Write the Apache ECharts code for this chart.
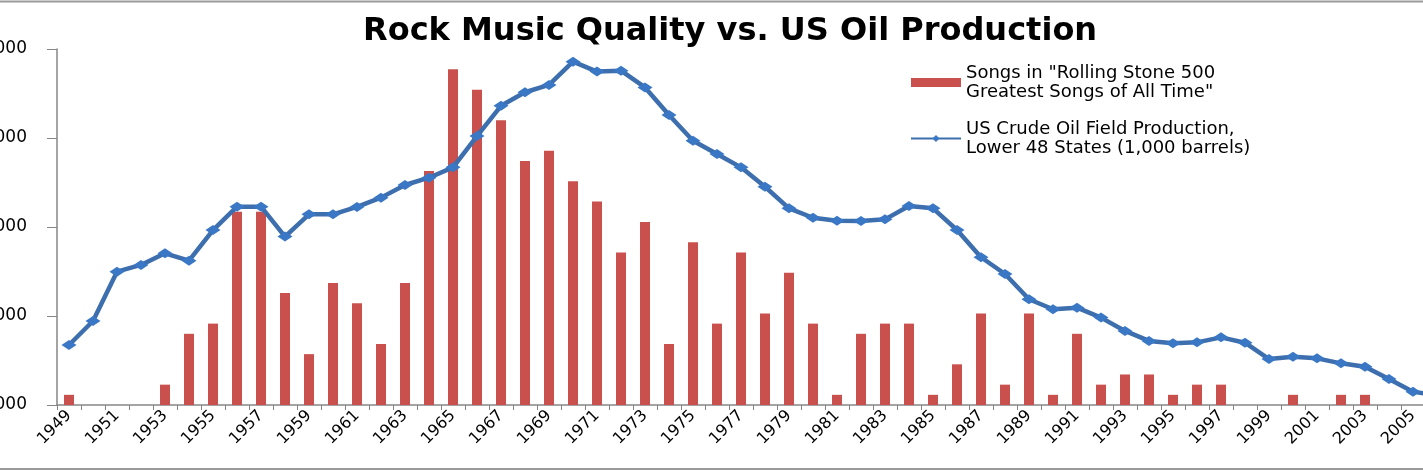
<!DOCTYPE html>
<html><head><meta charset="utf-8">
<script src="https://cdn.jsdelivr.net/npm/echarts@6/dist/echarts.min.js"></script>
<style>html,body{margin:0;padding:0;background:#fff}#c{width:1423px;height:474px}</style>
</head><body><div id="c"></div><script>
const years = ['1949','1950','1951','1952','1953','1954','1955','1956','1957','1958','1959','1960','1961',
'1962','1963','1964','1965','1966','1967','1968','1969','1970','1971','1972','1973',
'1974','1975','1976','1977','1978','1979','1980','1981','1982','1983','1984','1985',
'1986','1987','1988','1989','1990','1991','1992','1993','1994','1995','1996','1997',
'1998','1999','2000','2001','2002','2003','2004','2005','2006','2007'];
const songs = [1,0,0,0,2,7,8,19,19,11,5,12,10,
6,12,23,33,31,28,24,25,22,20,15,18,
6,16,8,15,9,13,8,1,7,8,8,1,
4,9,2,9,1,7,2,3,3,1,2,2,
0,0,1,0,1,1,0,0,0,0];
const oil = [1837000,1972000,2249000,2287000,2352000,2311000,2483000,2614000,2614000,2446000,2571000,2571000,2613000,
2665000,2736000,2777000,2835000,3011000,3181000,3257000,3298000,3429000,3373000,3378000,3284000,
3129000,2985000,2910000,2835000,2726000,2605000,2552000,2535000,2534000,2543000,2618000,2605000,
2483000,2330000,2236000,2094000,2038000,2047000,1991000,1916000,1860000,1847000,1852000,1880000,
1850000,1758000,1771000,1762000,1734000,1715000,1646000,1575000,1553000,1540000];
const songsName = 'Songs in "Rolling Stone 500\nGreatest Songs of All Time"';
const oilName = 'US Crude Oil Field Production,\nLower 48 States (1,000 barrels)';
const titleText = 'Rock Music Quality vs. US Oil Production';

const chart = echarts.init(document.getElementById('c'));
const font = 'DejaVu Sans';
chart.setOption({
  backgroundColor: '#fff',
  animation: false,
  title: {
    text: titleText, left: 358, top: 11,
    textStyle: {fontFamily: font, fontWeight: 'bold', fontSize: 32, color: '#000'}
  },
  legend: {
    orient: 'vertical', left: 905, top: 49, itemWidth: 50, itemHeight: 9, itemGap: -1,
    data: [{name: songsName, icon: 'rect'}, {name: oilName}],
    textStyle: {fontFamily: font, fontSize: 18, lineHeight: 19, color: '#000', padding: [19, 0, 0, 0]}
  },
  graphic: [
    {type: 'line', shape: {x1: 0, y1: 1.5, x2: 1423, y2: 1.5}, style: {stroke: '#9a9a9a', lineWidth: 2}},
    {type: 'line', shape: {x1: 0, y1: 469, x2: 1423, y2: 469}, style: {stroke: '#9a9a9a', lineWidth: 2}}
  ],
  grid: {left: 57, top: 49, width: 1416, height: 356, outerBoundsMode: 'none', containLabel: false},
  xAxis: {
    type: 'category', data: years, boundaryGap: true,
    axisLine: {lineStyle: {color: '#868686', width: 1.5}},
    axisTick: {show: true, interval: 0, length: 5, lineStyle: {color: '#868686'}},
    axisLabel: {interval: 1, rotate: 45, margin: 8, fontFamily: font, fontSize: 16, color: '#000'},
    splitLine: {show: false}
  },
  yAxis: [
    {type: 'value', min: 1500000, max: 3500000, interval: 500000, position: 'left',
     axisLine: {show: true, lineStyle: {color: '#868686', width: 1.5}},
     axisTick: {show: true, length: 10, lineStyle: {color: '#868686'}},
     axisLabel: {margin: 30, fontFamily: font, fontSize: 17, color: '#000',
       formatter: v => v.toLocaleString('en-US')},
     splitLine: {show: false}},
    {type: 'value', min: 0, max: 35, show: false, splitLine: {show: false}}
  ],
  series: [
    {name: songsName, type: 'bar', yAxisIndex: 1, data: songs, barWidth: 10,
     itemStyle: {color: '#c9504d'}},
    {name: oilName, type: 'line', yAxisIndex: 0, data: oil, symbol: 'diamond', symbolSize: [15, 10],
     lineStyle: {color: '#3d6fae', width: 4.5}, itemStyle: {color: '#3a78c6'}, z: 3}
  ]
});
</script></body></html>
